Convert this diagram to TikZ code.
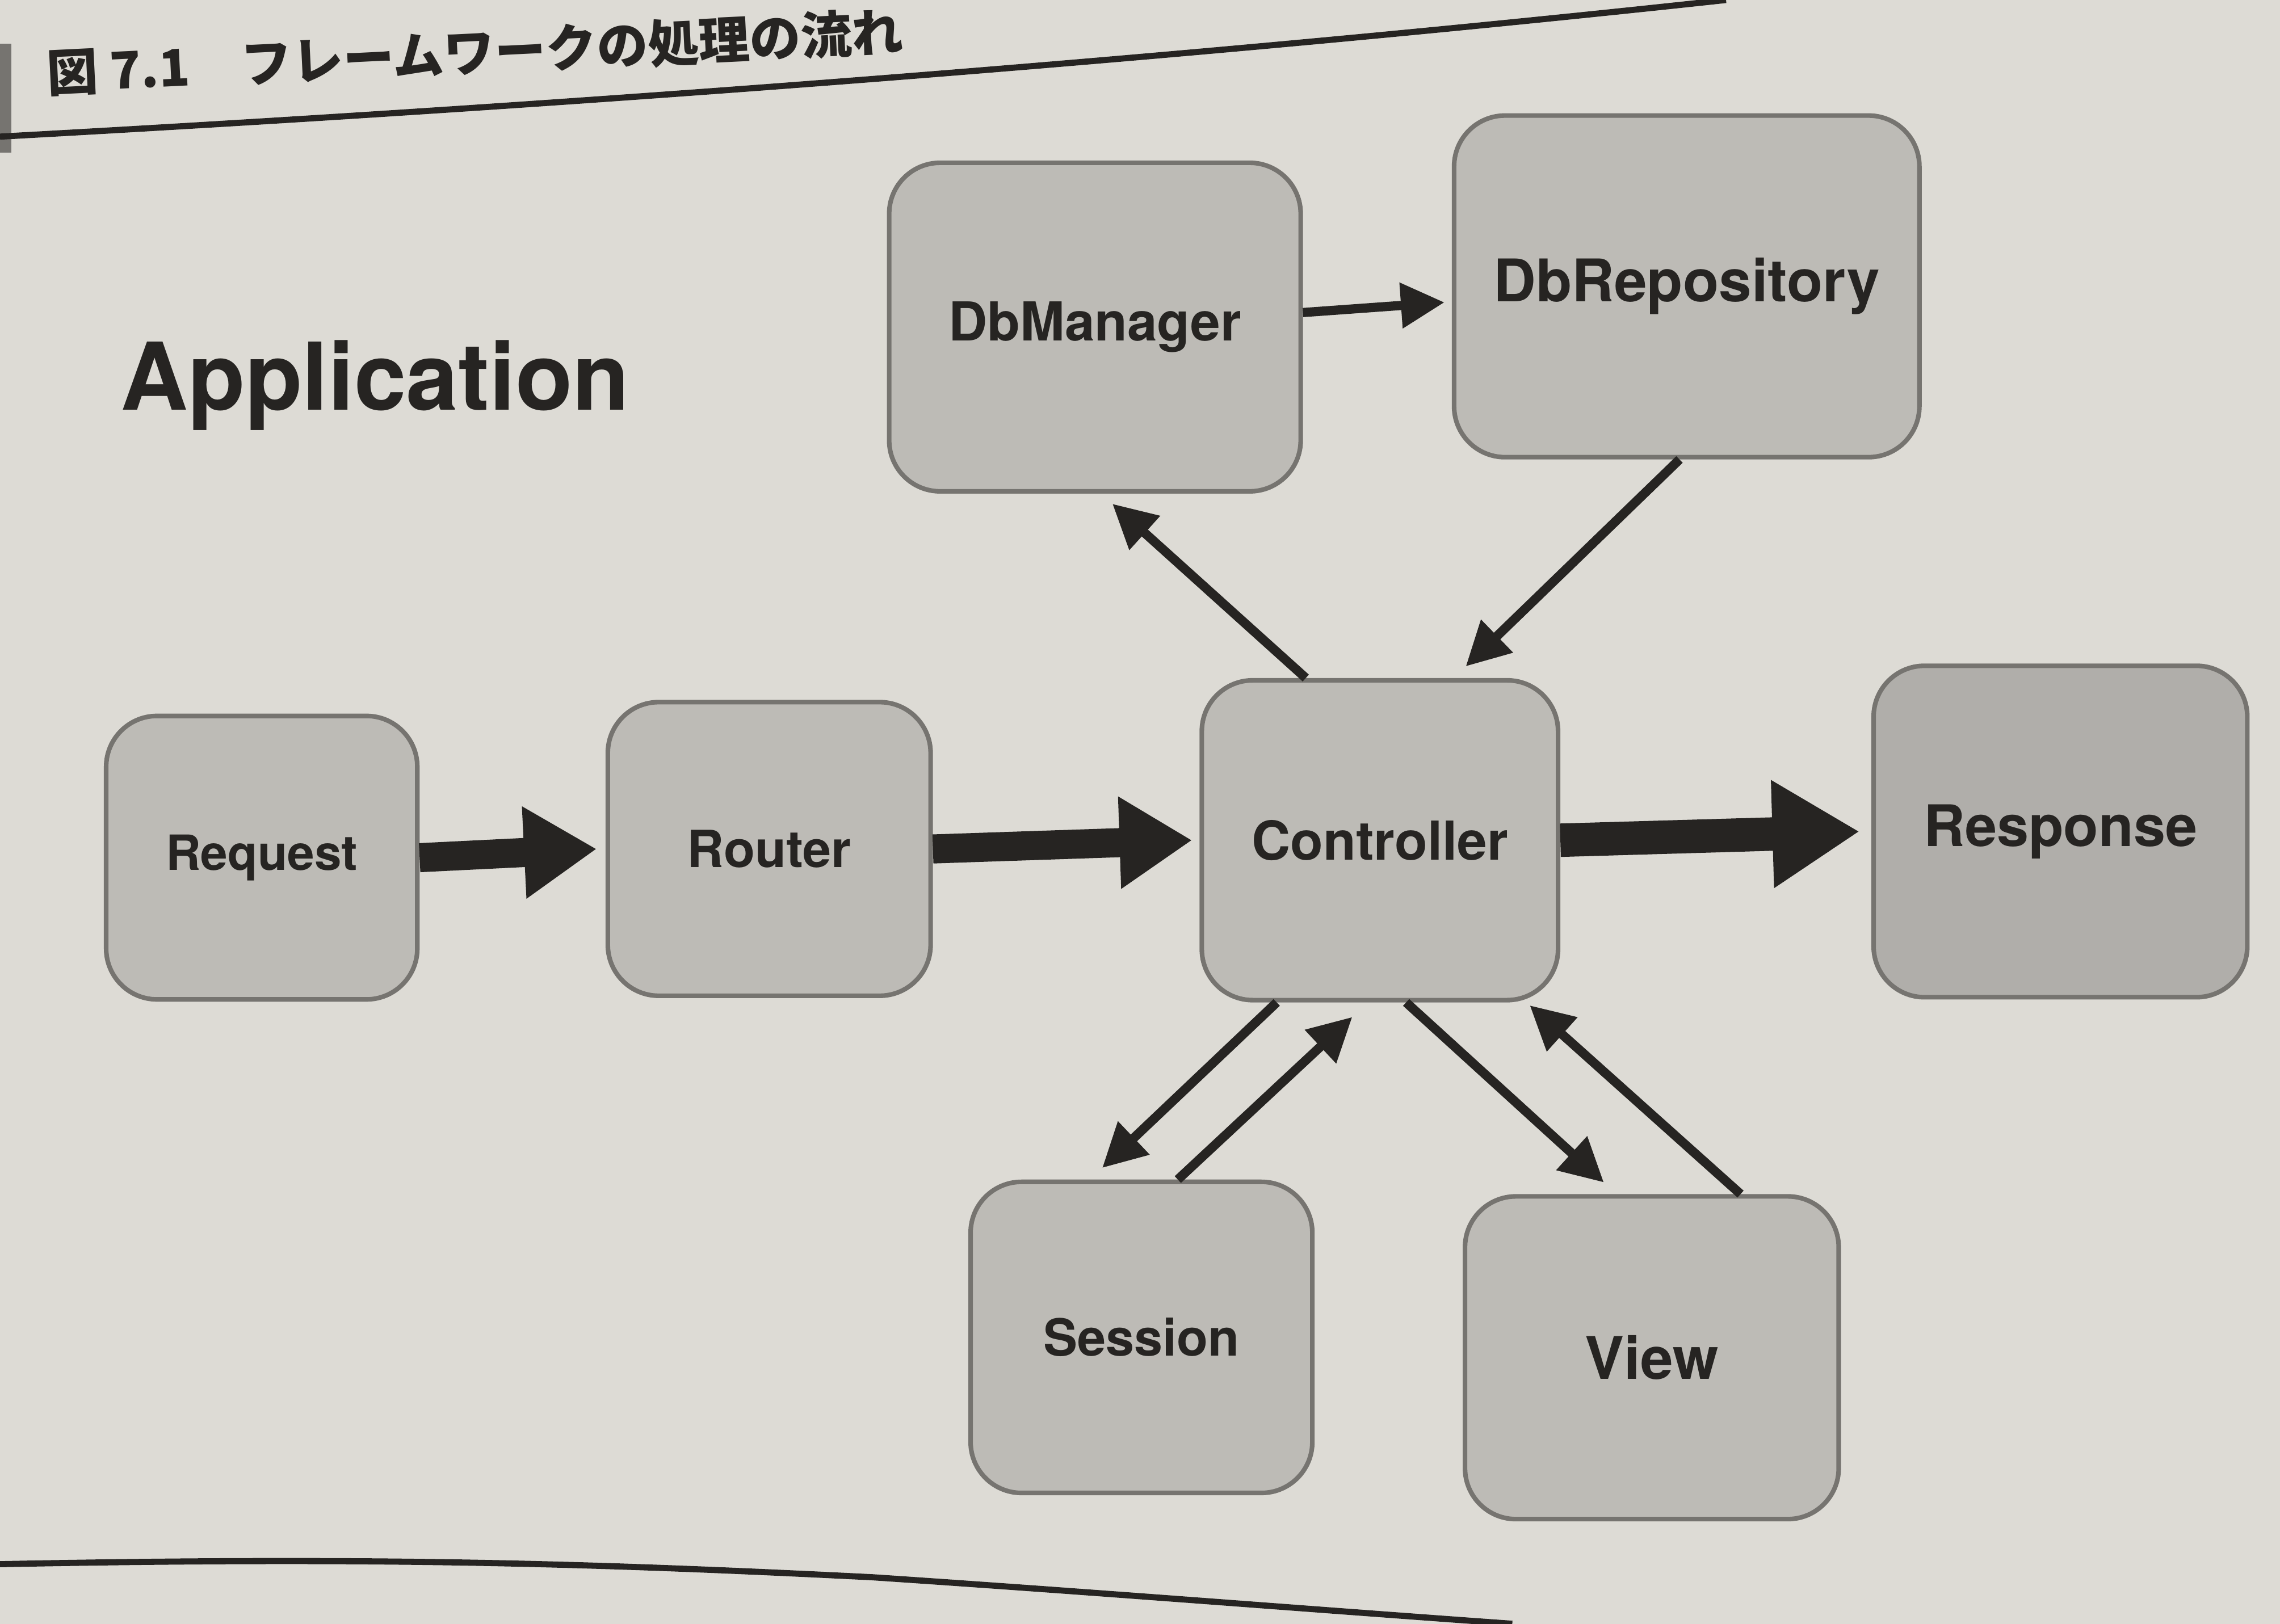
\documentclass[tikz,border=0pt]{standalone}
\usepackage{fontspec}
\setmainfont{TeX Gyre Heros}
\newfontfamily\jpfont{Noto Sans CJK JP}
\usepackage{tikz}
\usetikzlibrary{arrows.meta,positioning}

\definecolor{paper}{RGB}{221,219,213}
\definecolor{boxfill}{RGB}{189,187,182}
\definecolor{boxdark}{RGB}{176,174,170}
\definecolor{boxedge}{RGB}{118,116,112}
\definecolor{ink}{RGB}{38,36,34}

\begin{document}
\begin{tikzpicture}[
  block/.style={rectangle, rounded corners=3.5mm, draw=boxedge, line width=0.9pt, fill=boxfill, align=center, font=\fontsize{10.5}{12}\selectfont\bfseries, text=ink},
  bigline/.style={-{Triangle[length=5mm,width=6mm]}, line width=2mm, draw=ink},
  line/.style={-{Triangle[length=3mm,width=3mm]}, line width=1.8pt, draw=ink}
]
\useasboundingbox (0,0) rectangle (15.68,11.17);
\fill[paper] (0,0) rectangle (15.68,11.17);

% title and rules
\fill[boxedge] (0,10.12) rectangle (0.08,10.87);
\node[anchor=west, rotate=2.8, text=ink, font=\jpfont\bfseries\fontsize{10}{12}\selectfont] (title) at (0.2,10.66) {図 7.1　フレームワークの処理の流れ};
\draw[ink, line width=1.2pt] (0,10.23) .. controls (4,10.45) and (8,10.75) .. (11.87,11.17);
\draw[ink, line width=1.2pt] (0,0.41) .. controls (2.5,0.46) and (4,0.42) .. (6,0.32) .. controls (7.5,0.22) and (9,0.1) .. (10.4,0);

\node[text=ink, font=\fontsize{18.3}{21}\selectfont\bfseries] (app) at (2.58,8.52) {Application};

% main row
\node[block, minimum width=2.14cm, minimum height=1.95cm, font=\fontsize{9.5}{11}\selectfont\bfseries] (req) at (1.80,5.27) {Request};
\node[block, minimum width=2.22cm, minimum height=2.02cm, font=\fontsize{10}{12}\selectfont\bfseries] (router) at (5.29,5.33) {Router};
\node[block, minimum width=2.45cm, minimum height=2.20cm] (ctrl) at (9.49,5.39) {Controller};
\node[block, fill=boxdark, minimum width=2.57cm, minimum height=2.28cm, font=\fontsize{11.2}{13}\selectfont\bfseries] (resp) at (14.17,5.45) {Response};

% database side
\node[block, minimum width=2.83cm, minimum height=2.26cm] (dbm) at (7.53,8.92) {DbManager};
\node[block, minimum width=3.20cm, minimum height=2.35cm, font=\fontsize{11.5}{13}\selectfont\bfseries] (dbrepo) at (11.60,9.20) {DbRepository};

% bottom
\node[block, minimum width=2.35cm, minimum height=2.14cm, font=\fontsize{10}{12}\selectfont\bfseries] (sess) at (7.85,1.97) {Session};
\node[block, minimum width=2.57cm, minimum height=2.22cm, font=\fontsize{11.5}{13}\selectfont\bfseries] (view) at (11.36,1.83) {View};

\draw[bigline] (req.east) -- ([xshift=-0.6mm]router.west);
\draw[bigline] (router.east) -- ([xshift=-0.5mm]ctrl.west);
\draw[bigline, line width=2.3mm, -{Triangle[length=6mm,width=7mm]}] (ctrl.east) -- ([xshift=-0.8mm]resp.west);

\draw[line] ([xshift=-5.1mm]ctrl.north) -- ([xshift=1.2mm,yshift=-0.7mm]dbm.south);
\draw[line] ([yshift=1mm]dbm.east) -- ([xshift=-0.5mm,yshift=-1.1mm]dbrepo.west);
\draw[line] ([xshift=-0.5mm]dbrepo.south) -- ([xshift=5.9mm,yshift=0.8mm]ctrl.north);
\draw[line] ([xshift=-7.1mm]ctrl.south) -- ([xshift=-2.7mm,yshift=0.8mm]sess.north);
\draw[line] ([xshift=2.5mm]sess.north) -- ([xshift=-1.9mm,yshift=-1mm]ctrl.south);
\draw[line] ([xshift=1.8mm]ctrl.south) -- ([xshift=-3.3mm,yshift=0.8mm]view.north);
\draw[line] ([xshift=6.1mm]view.north) -- ([xshift=10.3mm,yshift=-0.2mm]ctrl.south);
\end{tikzpicture}
\end{document}
